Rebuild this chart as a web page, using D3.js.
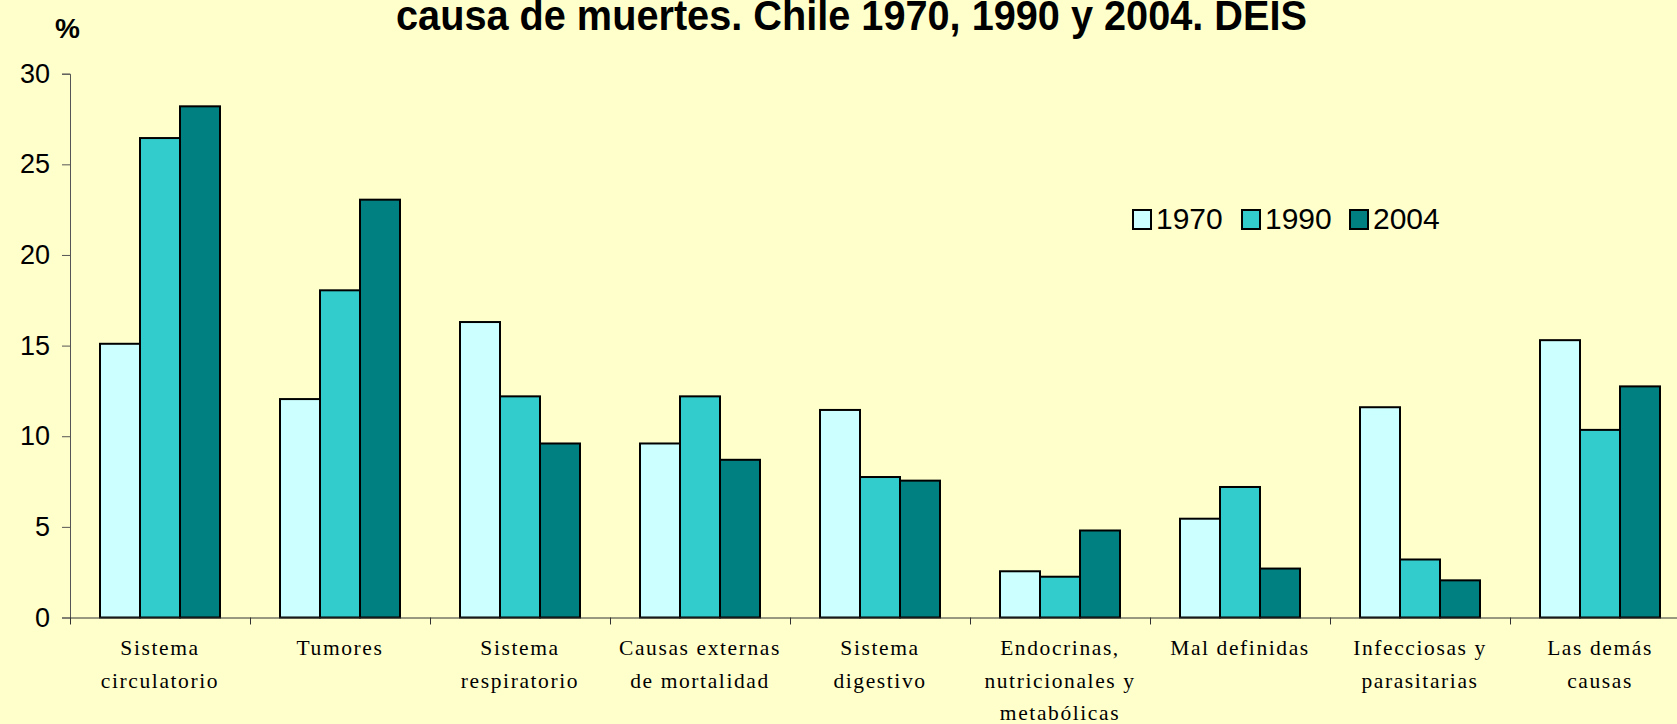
<!DOCTYPE html>
<html>
<head>
<meta charset="utf-8">
<script src="https://cdn.jsdelivr.net/npm/d3@7"></script>
<style>
  html, body { margin: 0; padding: 0; background: #FFFFCC; }
  svg { display: block; }
</style>
</head>
<body>
<div id="chart"></div>
<script>
// categories (x labels, split into lines)
const categories = [
  ["Sistema", "circulatorio"],
  ["Tumores"],
  ["Sistema", "respiratorio"],
  ["Causas externas", "de mortalidad"],
  ["Sistema", "digestivo"],
  ["Endocrinas,", "nutricionales y", "metabólicas"],
  ["Mal definidas"],
  ["Infecciosas y", "parasitarias"],
  ["Las demás", "causas"]
];
const years = ["1970", "1990", "2004"];
const values1970 = [15.1, 12.05, 16.3, 9.6, 11.45, 2.55, 5.45, 11.6, 15.3];
const values1990 = [26.45, 18.05, 12.2, 12.2, 7.75, 2.25, 7.2, 3.2, 10.35];
const values2004 = [28.2, 23.05, 9.6, 8.7, 7.55, 4.8, 2.7, 2.05, 12.75];
const yTicks = [0, 5, 10, 15, 20, 25, 30];
const colors = ["#CCFFFF", "#33CCCC", "#008080"];

const W = 1677, H = 724;
const margin = {left: 70, top: 73.7, bottom: 617.5, right: 1690};

const svg = d3.select("#chart").append("svg")
    .attr("width", W).attr("height", H);

svg.append("rect").attr("width", W).attr("height", H).attr("fill", "#FFFFCC");

const data = categories.map((c, i) => ({
    idx: i,
    vals: [values1970[i], values1990[i], values2004[i]]
}));

const x0 = d3.scaleBand()
    .domain(d3.range(categories.length))
    .range([margin.left, margin.right])
    .paddingInner(0).paddingOuter(0);

// group takes 2/3 of a band (Excel gap width 50%)
const x1 = d3.scaleBand()
    .domain(d3.range(years.length))
    .range([x0.bandwidth() / 6, x0.bandwidth() * 5 / 6]);

const y = d3.scaleLinear().domain([0, 30]).range([margin.bottom, margin.top]);

// title (first line is cut off above the picture)
svg.append("text")
    .attr("x", 396).attr("y", 30)
    .attr("textLength", 911)
    .attr("lengthAdjust", "spacingAndGlyphs")
    .style("font-family", "'Liberation Sans', Arial, sans-serif")
    .style("font-weight", "bold")
    .style("font-size", "42px")
    .text("causa de muertes. Chile 1970, 1990 y 2004. DEIS");

svg.append("text")
    .attr("x", 55).attr("y", 38)
    .style("font-family", "'Liberation Sans', Arial, sans-serif")
    .style("font-weight", "bold")
    .style("font-size", "28px")
    .text("%");

// bars
const groups = svg.selectAll(".grp")
    .data(data)
    .join("g")
    .attr("class", "grp")
    .attr("transform", d => "translate(" + x0(d.idx) + ",0)");

groups.selectAll("rect")
    .data(d => d.vals.map((v, k) => ({k, v})))
    .join("rect")
    .attr("x", d => x1(d.k))
    .attr("width", x1.bandwidth())
    .attr("y", d => y(d.v))
    .attr("height", d => y(0) - y(d.v))
    .attr("fill", d => colors[d.k])
    .attr("stroke", "#000")
    .attr("stroke-width", 2);

// y axis
const yAxis = svg.append("g")
    .attr("transform", "translate(" + margin.left + ",0)")
    .call(d3.axisLeft(y).tickValues(yTicks).tickSize(8).tickPadding(12));
yAxis.select(".domain").attr("stroke", "#555");
yAxis.selectAll(".tick line").attr("stroke", "#555");
yAxis.selectAll("text")
    .style("font-family", "'Liberation Sans', Arial, sans-serif")
    .style("font-size", "27px")
    .attr("fill", "#000");

// x axis
const xScaleTicks = d3.scaleLinear().domain([0, categories.length]).range([margin.left, margin.right]);
const xAxis = svg.append("g")
    .attr("transform", "translate(0," + margin.bottom + ")")
    .call(d3.axisBottom(xScaleTicks).tickValues(d3.range(categories.length + 1)).tickSize(7).tickSizeOuter(0).tickFormat(""));
xAxis.select(".domain").attr("stroke", "#333");
xAxis.selectAll(".tick line").attr("stroke", "#333");

// x labels
const labels = svg.selectAll(".xlab")
    .data(categories)
    .join("text")
    .attr("class", "xlab")
    .attr("text-anchor", "middle")
    .style("font-family", "'Liberation Serif', 'Times New Roman', serif")
    .style("font-size", "21.5px")
    .style("letter-spacing", "1.6px")
    .attr("fill", "#000");
labels.selectAll("tspan")
    .data((d, i) => d.map(t => ({t, i})))
    .join("tspan")
    .attr("x", d => x0(d.i) + x0.bandwidth() / 2)
    .attr("y", (d, j) => 655 + j * 32.5)
    .text(d => d.t);

// legend
const legend = svg.append("g").attr("transform", "translate(1133,210)");
const legX = [0, 109, 217];
years.forEach((yr, k) => {
    legend.append("rect")
        .attr("x", legX[k]).attr("y", 0)
        .attr("width", 18).attr("height", 19)
        .attr("fill", colors[k])
        .attr("stroke", "#000").attr("stroke-width", 2);
    legend.append("text")
        .attr("x", legX[k] + 23).attr("y", 19)
        .style("font-family", "'Liberation Sans', Arial, sans-serif")
        .style("font-size", "30px")
        .text(yr);
});
</script>
</body>
</html>
